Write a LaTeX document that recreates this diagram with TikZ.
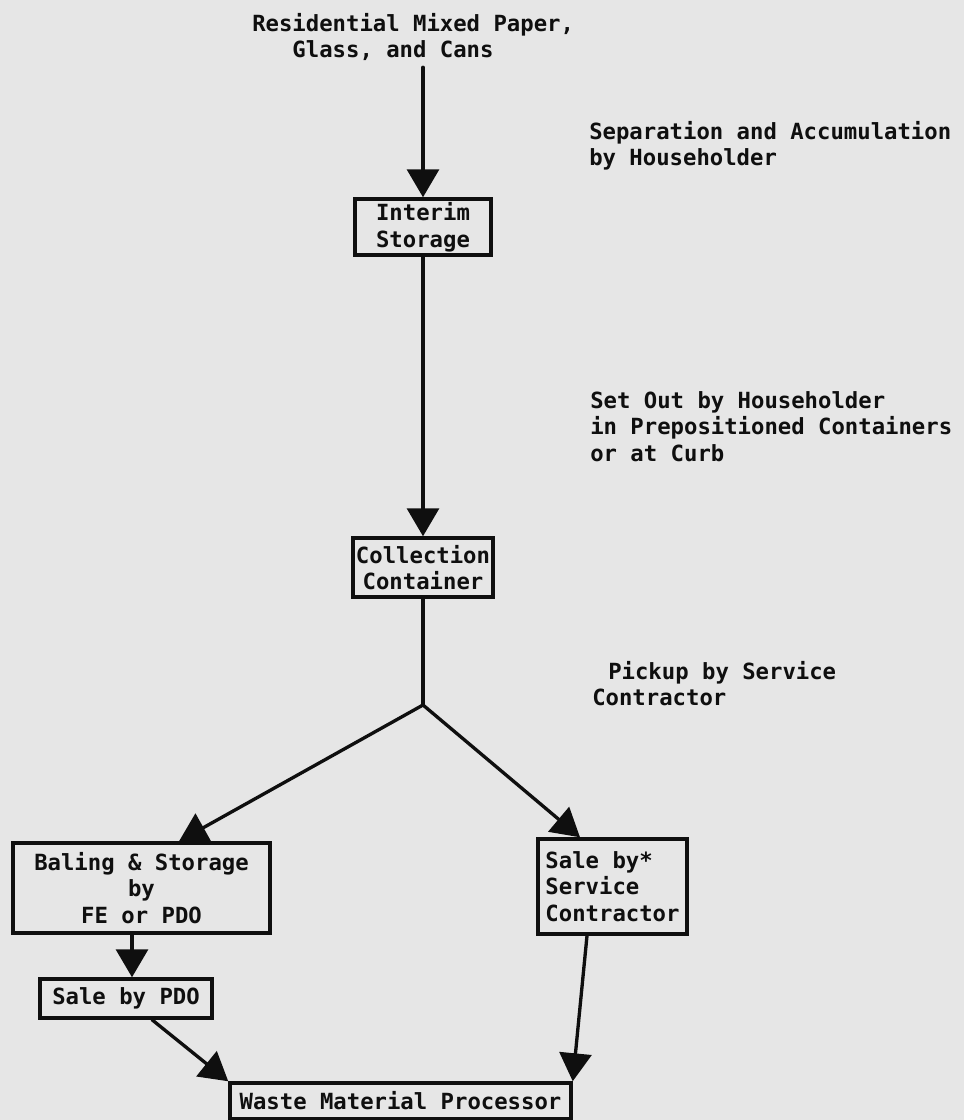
\documentclass[tikz,border=0pt]{standalone}
\usepackage{fontspec}
\newfontfamily\twfont{DejaVu Sans Mono}
\usetikzlibrary{arrows.meta,calc}
\definecolor{paper}{RGB}{230,230,230}
\definecolor{ink}{RGB}{15,15,15}
\begin{document}
\begin{tikzpicture}[x=0.75pt,y=-0.75pt,
  every node/.style={font=\twfont\bfseries\fontsize{16.7}{19.9}\selectfont, text=ink},
  box/.style={draw=ink, line width=2.6pt, inner sep=1pt, align=center},
  lbl/.style={anchor=north west, inner sep=0pt, align=left},
  flow/.style={draw=ink, line width=2.5pt, line cap=round},
  arr/.style={flow, -{Triangle[length=21pt,width=24pt]}},
]
\fill[paper] (0,0) rectangle (964,1120);
\useasboundingbox (0,0) rectangle (964,1120);

\node[lbl] (title) at (252,13) {Residential Mixed Paper,\\\phantom{Res}Glass, and Cans};
\node[lbl] (sep) at (589,121) {Separation and Accumulation\\by Householder};
\node[box, minimum width=102pt, minimum height=42pt] (interim) at (423,227) {Interim\\Storage};
\node[lbl] (setout) at (590,391) {Set Out by Householder\\in Prepositioned Containers\\or at Curb};
\node[box, minimum width=105pt, minimum height=44.25pt] (coll) at (423,567.5) {Collection\\Container};
\coordinate (split) at (423,705);
\node[lbl] (pickup) at (592,661) {\hspace*{12pt}Pickup by Service\\Contractor};
\node[box, minimum width=192.75pt, minimum height=67.5pt] (baling) at (141.5,888) {Baling \& Storage\\by\\FE or PDO};
\node[box, minimum width=111.75pt, minimum height=71.25pt, align=left] (salesc) at (612.5,886.5) {Sale by*\\Service\\Contractor};
\node[box, minimum width=129pt, minimum height=29.25pt] (salepdo) at (126,998.5) {Sale by PDO};
\node[box, minimum width=255.75pt, minimum height=27pt] (waste) at (400.5,1101) {Waste Material Processor};

\coordinate (x1) at (132,0);
\draw[arr] ($(title.south -| interim.north)+(0,6)$) -- (interim.north);
\draw[arr] (interim.south) -- (coll.north);
\draw[flow] (coll.south) -- (split);
\draw[arr] (split) -- ($(baling.north)+(37.5,0)$);
\draw[arr] (split) -- ($(salesc.north)+(-32.5,0)$);
\draw[arr] (baling.south -| x1) -- (salepdo.north -| x1);
\draw[arr] ($(salepdo.south)+(26,0)$) -- (waste.north west);
\draw[arr] ($(salesc.south)+(-25.5,0)$) -- (waste.north east);
\end{tikzpicture}
\end{document}
